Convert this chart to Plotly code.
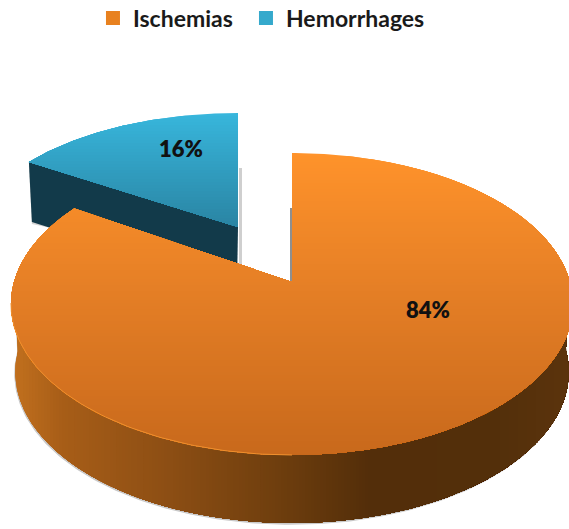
import numpy as np
import plotly.graph_objects as go

# data
categories = ["Ischemias", "Hemorrhages"]
values = [84, 16]
legend_colors = ["#E8811F", "#35A9CC"]

# drawing geometry (pixel-space projection of the tilted disc)
W, H = 569, 529
K = 0.1457
ORANGE = dict(cx=292, cy=282, A=278, B=147.8)
BLUE = dict(cx=238, cy=227, A=267, B=130.6)
WALL_O, WALL_B = 68, 60

def rim(g, a0, a1, n=240):
    t = np.radians(np.linspace(a0, a1, n))
    u, v = np.sin(t), np.cos(t)
    w = 1 + K * v
    return g["cx"] + g["A"] * u / w, g["cy"] - g["B"] * v / w

def hx(c):
    return np.array([int(c[i:i + 2], 16) for i in (1, 3, 5)], float)

def ramp(stops, p):
    ps = [s[0] for s in stops]
    cs = np.array([hx(s[1]) for s in stops])
    return "rgb(%d,%d,%d)" % tuple(np.interp(p, ps, cs[:, i]) for i in range(3))

def clip(x, y, level, axis):
    """keep the part of polygon with coord >= level"""
    pts = list(zip(x, y))
    out = []
    for i in range(len(pts)):
        a, b = pts[i], pts[(i + 1) % len(pts)]
        ca, cb = a[axis] - level, b[axis] - level
        if ca >= 0:
            out.append(a)
        if ca * cb < 0:
            f = ca / (ca - cb)
            out.append((a[0] + f * (b[0] - a[0]), a[1] + f * (b[1] - a[1])))
    if not out:
        return None, None
    o = np.array(out + [out[0]])
    return o[:, 0], o[:, 1]

fig = go.Figure()

def poly(x, y, color):
    fig.add_trace(go.Scatter(x=x, y=y, mode="lines", fill="toself", fillcolor=color,
                             line=dict(width=0, color=color), hoverinfo="skip", showlegend=False))

def graded(x, y, stops, axis, step=3):
    lo, hi = stops[0][0], stops[-1][0]
    for lv in np.arange(lo, hi, step):
        px, py = clip(x, y, lv if lv > lo else lo - 50, axis)
        if px is not None and len(px) > 2:
            poly(px, py, ramp(stops, lv))

end = 360 * values[0] / sum(values)

# Hemorrhages slice
bx, by = rim(BLUE, end, 360, 80)
lx, ly = bx[0], by[0]
poly([BLUE["cx"] + 1, BLUE["cx"] + 4, BLUE["cx"] + 4, BLUE["cx"] + 1],
     [by[-1] + 55, by[-1] + 55, BLUE["cy"] + 38, BLUE["cy"] + 38], "#cfcfcf")
poly([lx, lx + 3, lx + 3, lx + 22], [ly + 4, ly + WALL_B + 2, ly + WALL_B + 2, ly + WALL_B + 6], "#d4d4d4")
poly([lx, lx + 3, BLUE["cx"] - 1, BLUE["cx"]],
     [ly, ly + WALL_B, BLUE["cy"] + WALL_B, BLUE["cy"]], "#123A4A")
bfx = np.r_[BLUE["cx"], bx]
bfy = np.r_[BLUE["cy"], by]
graded(bfx, bfy, [(by.min(), "#38B6DC"), (BLUE["cy"], "#2A84A3")], 1)

# Ischemias side wall
tx, ty = rim(ORANGE, 90, 270)
sx = ORANGE["cx"] + 0.985 * (tx - ORANGE["cx"])
sy = ty + WALL_O
poly(np.r_[tx, sx[::-1] - 1.0], np.r_[ty, sy[::-1] + 1.8], "#c9c9c9")
wx, wy = np.r_[tx, sx[::-1]], np.r_[ty, sy[::-1]]
graded(wx, wy, [(8, "#C4721F"), (60, "#A85E18"), (170, "#8C4E14"), (280, "#6E3E0E"),
                (370, "#532E0A"), (500, "#54300B"), (572, "#5C340D")], 0)

# Ischemias top face
ox, oy = rim(ORANGE, 0, end, 400)
fx, fy = np.r_[ORANGE["cx"], ox], np.r_[ORANGE["cy"], oy]
poly([ORANGE["cx"] - 2, ORANGE["cx"] + 1.5, ORANGE["cx"] + 1.5, ORANGE["cx"] - 2],
     [oy[0] + 55, oy[0] + 55, ORANGE["cy"], ORANGE["cy"]], "#8f8f8f")
graded(fx, fy, [(oy.min(), "#FF932B"), (290, "#E57F26"), (oy.max() + 1, "#C8691C")], 1)

hx_, hy_ = rim(ORANGE, 180, 262, 80)
fig.add_trace(go.Scatter(x=hx_, y=hy_, mode="lines", line=dict(color="#F0902E", width=1),
                         hoverinfo="skip", showlegend=False))

# value labels
fig.add_trace(go.Scatter(x=[428, 181], y=[312, 151], mode="text",
                         text=["%d%%" % v for v in values],
                         textfont=dict(family="Lato", size=22, color="#111111", weight=800),
                         hoverinfo="skip", showlegend=False))

# legend: one legend box per entry so each can sit where the reference has it
legend_ids = ["legend", "legend2"]
for name, col, lid in zip(categories, legend_colors, legend_ids):
    fig.add_trace(go.Scatter(x=[None], y=[None], mode="markers", name=name, legend=lid,
                             marker=dict(symbol="square", size=14, color=col)))

legend_style = dict(orientation="h", xanchor="left", y=0.966, yanchor="middle",
                    font=dict(family="Lato", size=23, color="#1a1a1a", weight=700),
                    bgcolor="rgba(0,0,0,0)", itemwidth=30)

fig.update_layout(
    width=W, height=H, autosize=False,
    margin=dict(l=0, r=0, t=0, b=0, autoexpand=False),
    paper_bgcolor="white", plot_bgcolor="white",
    xaxis=dict(range=[0, W], visible=False, fixedrange=True),
    yaxis=dict(range=[H, 0], visible=False, fixedrange=True),
    legend=dict(x=0.1634, **legend_style),
    legend2=dict(x=0.4323, **legend_style),
)
fig.write_html("out.html", config={"displayModeBar": False},
               post_script="document.body.style.margin='0';document.body.style.overflow='hidden';")
